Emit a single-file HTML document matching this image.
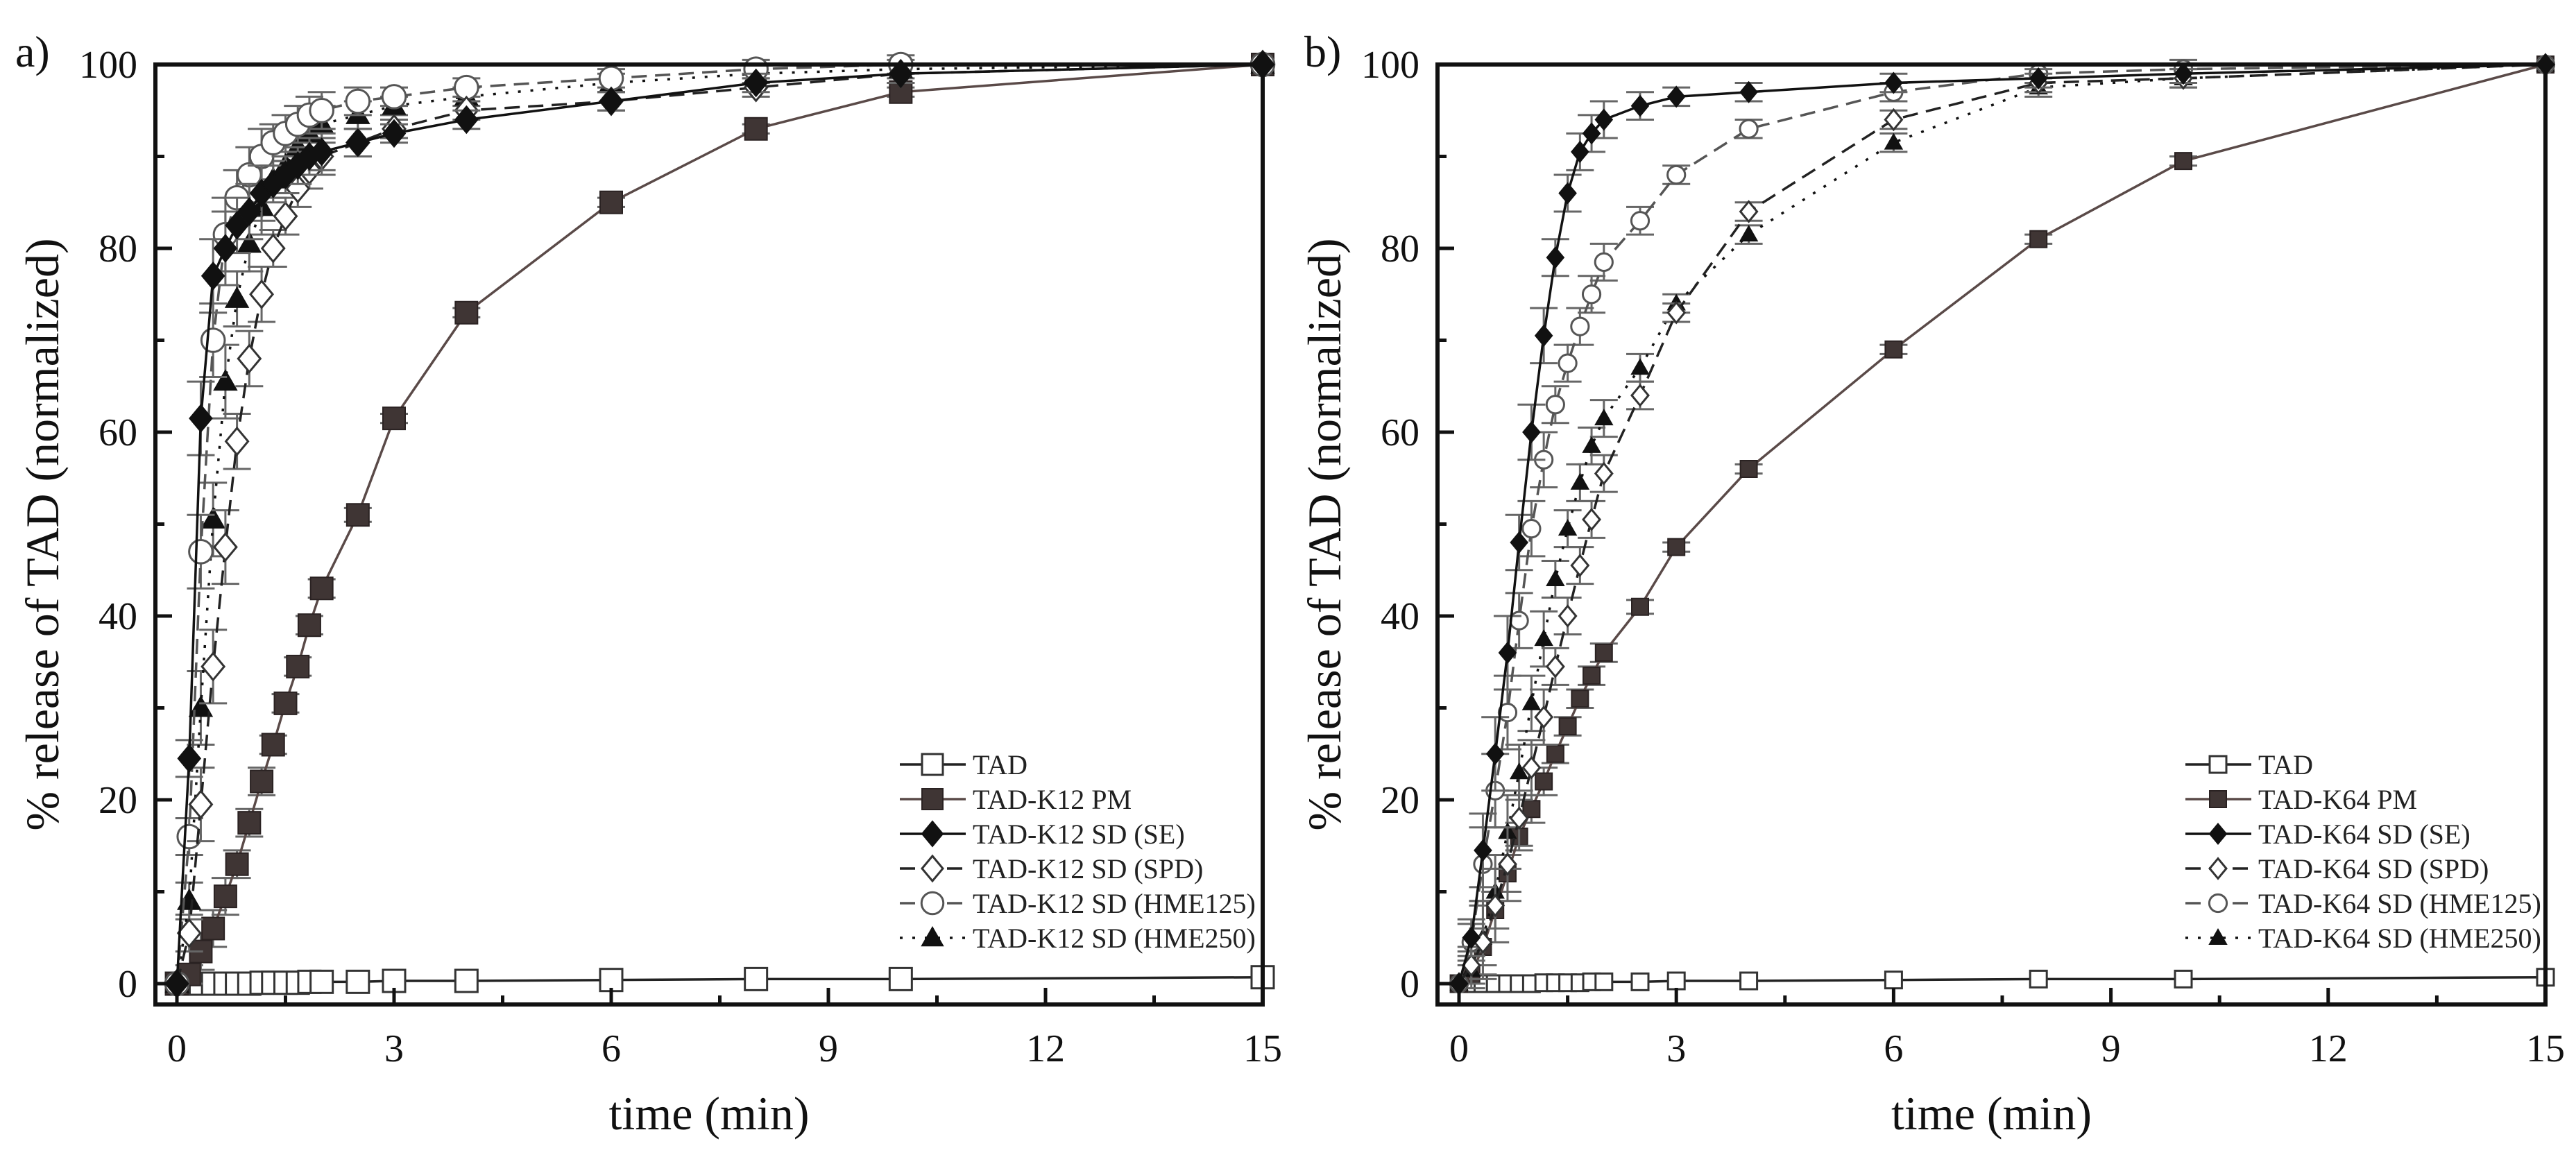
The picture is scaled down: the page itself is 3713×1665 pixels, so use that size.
<!DOCTYPE html>
<html><head><meta charset="utf-8"><style>
html,body{margin:0;padding:0;background:#fff;}
svg{display:block;font-family:"Liberation Serif",serif;}
</style></head><body>
<svg id="chart" width="3713" height="1665" viewBox="0 0 3713 1665" xmlns="http://www.w3.org/2000/svg"></svg>
<script>
const times = [0,0.17,0.33,0.5,0.67,0.83,1,1.17,1.33,1.5,1.67,1.83,2,2.5,3,4,6,8,10,15];
const xTicks = [0,3,6,9,12,15];
const yTicks = [0,20,40,60,80,100];
// panel a
const aTAD   = [0,0,0,0,0,0,0,0.1,0.1,0.1,0.1,0.2,0.2,0.2,0.3,0.3,0.4,0.5,0.5,0.7];
const aPM    = [0,1,3.5,6,9.5,13,17.5,22,26,30.5,34.5,39,43,51,61.5,73,85,93,97,100];
const aSE    = [0,24.5,61.5,77,80,82.5,84,86,87,88,89,90,90.5,91.5,92.5,94,96,98,99,100];
const aSPD   = [0,5.5,19.5,34.5,47.5,59,68,75,80,83.5,86.5,88.5,90,91.5,93,95,96,97.5,99,100];
const aH125  = [0,16,47,70,81.5,85.5,88,90,91.5,92.5,93.5,94.5,95,96,96.5,97.5,98.5,99.5,100,100];
const aH250  = [0,9,30,50.5,65.5,74.5,80.5,84.5,87.5,89,91,92.5,93.5,94.5,95.5,96.5,98,99,99.5,100];
// panel b
const bTAD   = [0,0,0,0,0,0,0,0.1,0.1,0.1,0.1,0.2,0.2,0.2,0.3,0.3,0.4,0.5,0.5,0.7];
const bPM    = [0,1,4,8,12,16,19,22,25,28,31,33.5,36,41,47.5,56,69,81,89.5,100];
const bSE    = [0,5,14.5,25,36,48,60,70.5,79,86,90.5,92.5,94,95.5,96.5,97,98,98.5,99,100];
const bSPD   = [0,2,4.5,8.5,13,18,23.5,29,34.5,40,45.5,50.5,55.5,64,73,84,94,98,98.5,100];
const bH125  = [0,4.5,13,21,29.5,39.5,49.5,57,63,67.5,71.5,75,78.5,83,88,93,97,99,99.5,100];
const bH250  = [0,1.5,5,10,16.5,23,30.5,37.5,44,49.5,54.5,58.5,61.5,67,74,81.5,91.5,97.5,98.5,100];
const errs   = [0,2,4,4,4,3,3,3,2,2,2,2,2,1.5,1,1,1,1,1,0];
const aNames = ["TAD","TAD-K12 PM","TAD-K12 SD (SE)","TAD-K12 SD (SPD)","TAD-K12 SD (HME125)","TAD-K12 SD (HME250)"];
const bNames = ["TAD","TAD-K64 PM","TAD-K64 SD (SE)","TAD-K64 SD (SPD)","TAD-K64 SD (HME125)","TAD-K64 SD (HME250)"];

const NS="http://www.w3.org/2000/svg";
const svg=document.getElementById('chart');
function mk(tag,attrs,parent){const e=document.createElementNS(NS,tag);for(const k in attrs)e.setAttribute(k,attrs[k]);(parent||svg).appendChild(e);return e;}

function panel(cfg){
  const g=mk('g',{});
  
  
  const L=cfg.fl,R=cfg.fr,T=93,B=1448,x0=cfg.x0;
  const sx=v=>x0+(R-x0)*v/15;
  const sy=v=>1418-(1418-93)*v/100;
  const series=[
    {vals:cfg.tad,m:'osq',dash:'',col:'#222'},
    {vals:cfg.pm,m:'fsq',dash:'',col:'#5a4a48'},
    {vals:cfg.h250,m:'tri',dash:'4 14',col:'#111'},
    {vals:cfg.h125,m:'circ',dash:'22 12',col:'#555'},
    {vals:cfg.spd,m:'odia',dash:'22 12',col:'#222'},
    {vals:cfg.se,m:'fdia',dash:'',col:'#111'}
  ];
  const ms=cfg.ms;
  series.forEach((s,si)=>{
    const sg=mk('g',{},g);
    
    
    times.forEach((t,i)=>{
      if(si===0)return;
      const e=errs[i]*(si===1?0.5:1);
      if(e<=0)return;
      const x=sx(t),y1=sy(s.vals[i]-e),y2=sy(s.vals[i]+e);
      mk('path',{d:`M${x},${y1}V${y2}M${x-20},${y1}H${x+20}M${x-20},${y2}H${x+20}`,stroke:'#666','stroke-width':3,fill:'none'},sg);
    });
    const pts=times.map((t,i)=>sx(t)+','+sy(s.vals[i])).join(' ');
    const pl=mk('polyline',{points:pts,fill:'none',stroke:s.col,'stroke-width':3.5,'stroke-dasharray':s.dash},sg);
    
    
    times.forEach((t,i)=>{
      const m=marker(s.m,sx(t),sy(s.vals[i]),ms,sg);
      
      
    });
  });
  const fr=mk('rect',{x:L,y:T,width:R-L,height:B-T,fill:'none',stroke:'#111','stroke-width':6},g);
  
  
  for(let v=0;v<=15;v+=1.5){const x=sx(v);const major=(v%3===0);
    mk('line',{x1:x,x2:x,y1:B,y2:B-(major?24:13),stroke:'#111','stroke-width':5},g);}
  xTicks.forEach(v=>{const t=mk('text',{x:sx(v),y:B+82,'font-size':56,'text-anchor':'middle',fill:'#111'},g);t.textContent=v;
    
    });
  for(let v=0;v<=100;v+=10){const y=sy(v);const major=(v%20===0);
    mk('line',{x1:L,x2:L+(major?24:13),y1:y,y2:y,stroke:'#111','stroke-width':5},g);}
  yTicks.forEach(v=>{const t=mk('text',{x:L-26,y:sy(v)+19,'font-size':56,'text-anchor':'end',fill:'#111'},g);t.textContent=v;
    
    });
  const xt=mk('text',{x:(L+R)/2,y:1628,'font-size':68,'text-anchor':'middle',fill:'#111'},g);xt.textContent='time (min)';
  
  
  const yt=mk('text',{x:0,y:0,'font-size':68,'text-anchor':'middle',fill:'#111',transform:`translate(${L-140},${(T+B)/2}) rotate(-90)`},g);yt.textContent='% release of TAD (normalized)';
  
  
  const pl=mk('text',{x:cfg.lx,y:96,'font-size':64,fill:'#111'},g);pl.textContent=cfg.label;
  
  
  const lg=mk('g',{},g);
  
  
  const order=[0,1,5,4,3,2];
  order.forEach((si,k)=>{
    const s=series[si];const y=1102+k*50;
    const e=mk('g',{},lg);
    
    
    mk('line',{x1:cfg.legx,x2:cfg.legx+95,y1:y,y2:y,stroke:s.col,'stroke-width':3.5,'stroke-dasharray':s.dash},e);
    marker(s.m,cfg.legx+47,y,cfg.lms,e);
    const t=mk('text',{x:cfg.legx+105,y:y+14,'font-size':40,fill:'#222'},e);t.textContent=cfg.names[k];
  });
}
function marker(type,x,y,s,p){
  const h=s/2;
  if(type==='osq')return mk('rect',{x:x-h,y:y-h,width:s,height:s,fill:'#fff',stroke:'#333','stroke-width':3},p);
  if(type==='fsq')return mk('rect',{x:x-h,y:y-h,width:s,height:s,fill:'#3f3534',stroke:'#2a2222','stroke-width':2},p);
  if(type==='fdia')return mk('polygon',{points:`${x},${y-h*1.2} ${x+h},${y} ${x},${y+h*1.2} ${x-h},${y}`,fill:'#111',stroke:'#111','stroke-width':2},p);
  if(type==='odia')return mk('polygon',{points:`${x},${y-h*1.2} ${x+h},${y} ${x},${y+h*1.2} ${x-h},${y}`,fill:'#fff',stroke:'#333','stroke-width':3},p);
  if(type==='circ')return mk('circle',{cx:x,cy:y,r:h*1.05,fill:'#fff',stroke:'#555','stroke-width':3},p);
  return mk('polygon',{points:`${x},${y-h} ${x+h},${y+h*0.75} ${x-h},${y+h*0.75}`,fill:'#111',stroke:'#111','stroke-width':2},p);
}
const keys=['tad','pm','hme250','hme125','spd','se'];
panel({name:'panel-a',fl:224,fr:1820,x0:255,tad:aTAD,pm:aPM,se:aSE,spd:aSPD,h125:aH125,h250:aH250,ms:32,lms:30,label:'a)',lx:22,legx:1297,names:aNames,keys:keys});
panel({name:'panel-b',fl:2072,fr:3669,x0:2103,tad:bTAD,pm:bPM,se:bSE,spd:bSPD,h125:bH125,h250:bH250,ms:24,lms:24,label:'b)',lx:1880,legx:3150,names:bNames,keys:keys});
</script>
</body></html>
